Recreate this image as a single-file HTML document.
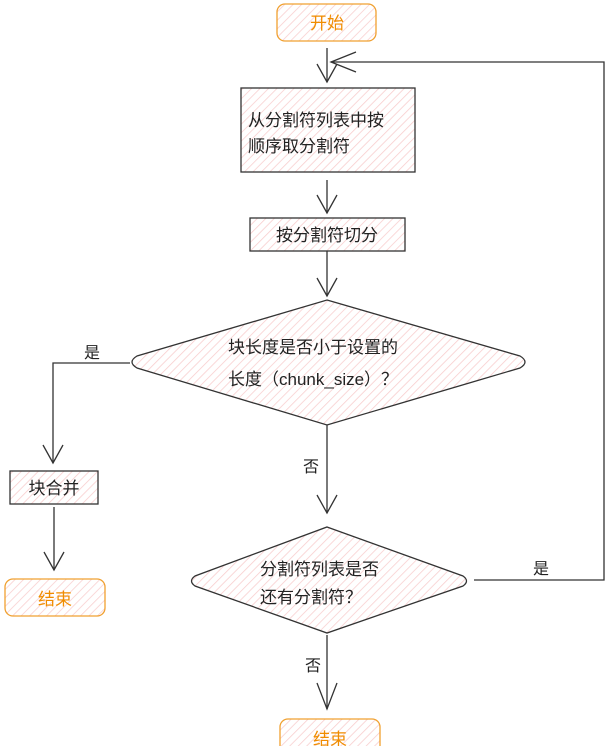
<!DOCTYPE html>
<html><head><meta charset="utf-8"><style>
body{margin:0;background:#fff;}
svg text{font-family:"Liberation Sans","Noto Sans CJK SC",sans-serif;}
</style></head><body>
<svg width="609" height="746" viewBox="0 0 609 746" xmlns="http://www.w3.org/2000/svg">
<defs>
<pattern id="h" width="6" height="6" patternUnits="userSpaceOnUse" patternTransform="rotate(45)">
<rect width="6" height="6" fill="#fff"/>
<line x1="0" y1="0" x2="0" y2="6" stroke="#f8cccc" stroke-width="1.5"/>
</pattern>
</defs>
<g stroke="#333" stroke-width="1.3" fill="none">
<!-- start -->
<rect x="277" y="4" width="99" height="37" rx="8" fill="url(#h)" stroke="#f0a030"/>
<line x1="327" y1="48" x2="327" y2="82"/><polyline points="317,64 327,82 337,64"/>
<polyline points="474,580 604,580 604,62 331,62"/><polyline points="356,52 331,62 356,72"/>
<rect x="241" y="88" width="174" height="84" fill="url(#h)"/>
<line x1="327" y1="180" x2="327" y2="213"/><polyline points="317,195 327,213 337,195"/>
<rect x="250" y="218" width="155" height="33" fill="url(#h)"/>
<line x1="327" y1="251" x2="327" y2="296"/><polyline points="317,278 327,296 337,278"/>
<path d="M327,300 L520,356 Q530,362 520,368 L327,425 L137,368 Q127,362 137,356 Z" fill="url(#h)"/>
<polyline points="130,363 53,363 53,463"/><polyline points="43,445 53,463 63,445"/>
<rect x="10" y="471" width="88" height="33" fill="url(#h)"/>
<line x1="54" y1="507" x2="54" y2="570"/><polyline points="44,552 54,570 64,552"/>
<rect x="5" y="579" width="100" height="37" rx="8" fill="url(#h)" stroke="#f0a030"/>
<line x1="327" y1="425" x2="327" y2="513"/><polyline points="317,495 327,513 337,495"/>
<path d="M327,527 L463,576 Q470,581 463,586 L327,633 L195,586 Q188,581 195,576 Z" fill="url(#h)"/>
<line x1="327" y1="635" x2="327" y2="709"/><polyline points="317,683 327,709 337,683"/>
<rect x="280" y="719" width="100" height="37" rx="8" fill="url(#h)" stroke="#f0a030"/>
</g>
<g font-size="17" fill="#222">
<text x="327" y="29" text-anchor="middle" fill="#f08c00">开始</text>
<text x="248" y="126">从分割符列表中按</text>
<text x="248" y="152">顺序取分割符</text>
<text x="327" y="241" text-anchor="middle">按分割符切分</text>
<text x="228" y="353">块长度是否小于设置的</text>
<text x="228" y="385">长度（chunk_size）？</text>
<text x="92" y="358" text-anchor="middle" font-size="16">是</text>
<text x="54" y="494" text-anchor="middle">块合并</text>
<text x="55" y="605" text-anchor="middle" fill="#f08c00">结束</text>
<text x="311" y="472" text-anchor="middle" font-size="16">否</text>
<text x="260" y="575">分割符列表是否</text>
<text x="260" y="603">还有分割符？</text>
<text x="541" y="574" text-anchor="middle" font-size="16">是</text>
<text x="313" y="671" text-anchor="middle" font-size="16">否</text>
<text x="330" y="745" text-anchor="middle" fill="#f08c00">结束</text>
</g>
</svg>
</body></html>
